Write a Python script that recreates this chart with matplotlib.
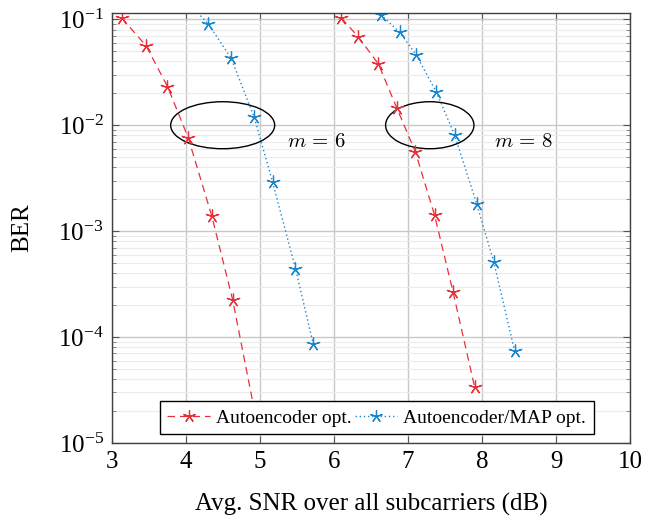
import numpy as np
import matplotlib.pyplot as plt
from matplotlib.patches import Ellipse
from matplotlib.ticker import LogLocator, NullFormatter

# SNR (dB) and BER values
snr_ae_m6 = [3.13, 3.46, 3.75, 4.03, 4.35, 4.63, 4.93]
ber_ae_m6 = [0.103, 0.0564, 0.0232, 0.00764, 0.00138, 2.26e-4, 1.95e-5]
snr_map_m6 = [4.0, 4.30, 4.61, 4.92, 5.17, 5.48, 5.72]
ber_map_m6 = [0.15, 0.091, 0.043, 0.012, 0.00292, 4.43e-4, 8.6e-5]

snr_ae_m8 = [6.10, 6.33, 6.60, 6.85, 7.10, 7.36, 7.61, 7.90]
ber_ae_m8 = [0.103, 0.068, 0.0379, 0.0145, 0.0056, 0.00141, 2.65e-4, 3.4e-5]
snr_map_m8 = [6.63, 6.89, 7.11, 7.38, 7.63, 7.93, 8.16, 8.44]
ber_map_m8 = [0.111, 0.0753, 0.0463, 0.0208, 0.0081, 0.0018, 5.1e-4, 7.45e-5]

labels = ["Autoencoder opt.", "Autoencoder/MAP opt."]

red = "#e8303a"
blue = "#1b86cc"


def main():
    plt.rcParams['font.family'] = ['Liberation Serif', 'DejaVu Serif']
    plt.rcParams['mathtext.fontset'] = 'stix'

    fig = plt.figure(figsize=(6.45, 5.18), dpi=100)
    ax = fig.add_axes([0.1736, 0.1448, 0.8031, 0.8301])

    star = (5, 2, 0)
    ax.plot(snr_ae_m6, ber_ae_m6, color=red, ls=(0, (6, 4)), lw=0.9,
            marker=star, ms=10, mew=0.9, label=labels[0])
    ax.plot(snr_map_m6, ber_map_m6, color=blue, ls=(0, (1, 2)), lw=1.0,
            marker=star, ms=10, mew=0.9, label=labels[1])
    ax.plot(snr_ae_m8, ber_ae_m8, color=red, ls=(0, (6, 4)), lw=0.9,
            marker=star, ms=10, mew=0.9)
    ax.plot(snr_map_m8, ber_map_m8, color=blue, ls=(0, (1, 2)), lw=1.0,
            marker=star, ms=10, mew=0.9)

    ax.set_yscale('log')
    ax.set_xlim(3, 10)
    ax.set_ylim(1e-5, 0.1147)
    ax.set_xticks(range(3, 11))
    ax.yaxis.set_major_locator(LogLocator(base=10, numticks=10))
    ax.yaxis.set_minor_locator(LogLocator(base=10, subs=np.arange(2, 10), numticks=20))
    ax.yaxis.set_minor_formatter(NullFormatter())

    ax.grid(True, which='major', color='#c8c8c8', lw=1.0)
    ax.grid(True, which='minor', axis='y', color='#ececec', lw=0.8)
    ax.set_axisbelow(True)

    ax.tick_params(which='both', direction='in', top=True, right=True,
                   labelsize=18, pad=6)
    ax.tick_params(which='major', length=5, color='#555555')
    ax.tick_params(which='minor', length=3, color='#777777')
    for s in ax.spines.values():
        s.set_color('#404040')
        s.set_linewidth(1.0)

    ax.set_xlabel("Avg. SNR over all subcarriers (dB)", fontsize=18, labelpad=14)
    ax.set_ylabel("BER", fontsize=18, labelpad=18)

    for cx, w in [(0.2137, 0.2008), (0.6135, 0.1705)]:
        ax.add_patch(Ellipse((cx, 0.739), w, 0.1093, transform=ax.transAxes,
                             fill=False, ec='black', lw=1.0))
    ax.text(5.77, 0.0068, r"$m\,=\,6$", fontsize=15, ha='center', va='center',
            math_fontfamily='cm')
    ax.text(8.57, 0.0068, r"$m\,=\,8$", fontsize=15, ha='center', va='center',
            math_fontfamily='cm')

    leg = ax.legend(loc='lower center', bbox_to_anchor=(0.511, 0.02), ncol=2,
                    fontsize=14, frameon=True, fancybox=False,
                    edgecolor='black', handlelength=2.2, handletextpad=0.3,
                    columnspacing=0.15, borderpad=0.4, borderaxespad=0,
                    markerscale=0.9)
    leg.get_frame().set_linewidth(1.0)
    leg.get_frame().set_alpha(1.0)

    fig.savefig("out.png", dpi=100)


if __name__ == "__main__":
    main()
